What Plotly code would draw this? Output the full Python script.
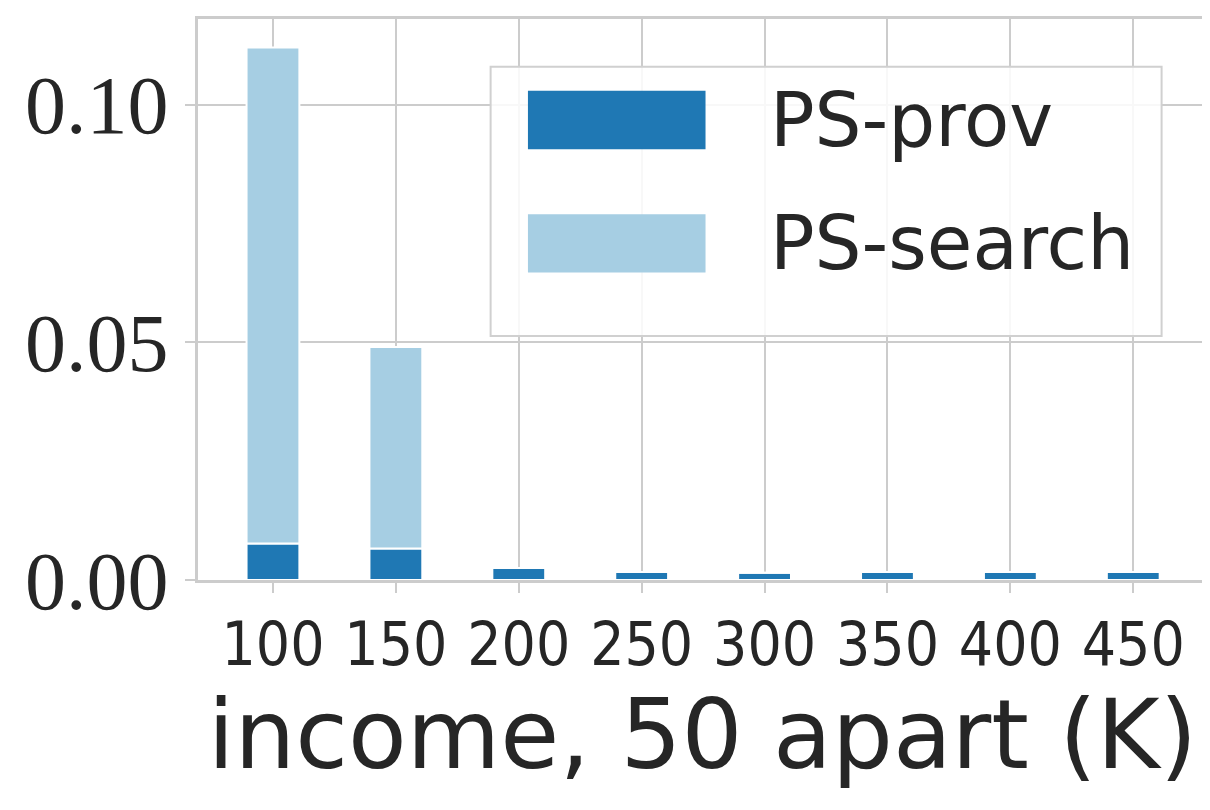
import plotly.graph_objects as go

incomes = ["100", "150", "200", "250", "300", "350", "400", "450"]
ps_prov = [0.0077, 0.0066, 0.0025, 0.0017, 0.0015, 0.0017, 0.0017, 0.0017]
ps_search = [0.1043, 0.0424, 0.0, 0.0, 0.0, 0.0, 0.0, 0.0]

dark = "#1f78b4"
light = "#a6cee3"

fig = go.Figure()
fig.add_bar(x=incomes, y=ps_prov, name="PS-prov", marker_color=dark,
            marker_line=dict(color="white", width=2), width=0.43)
fig.add_bar(x=incomes, y=ps_search, base=ps_prov, name="PS-search",
            marker_color=light, marker_line=dict(color="white", width=2), width=0.43)

fig.update_layout(
    width=1210, height=810, barmode="overlay", showlegend=False,
    plot_bgcolor="white", paper_bgcolor="white",
    margin=dict(l=190, r=10, t=8, b=238),
    font=dict(family="DejaVu Sans", color="#262626"),
)
fig.update_xaxes(
    type="category", range=[-0.61, 7.6], showgrid=True, gridcolor="#cccccc", gridwidth=2,
    showline=True, mirror=True, linecolor="#cccccc", linewidth=3,
    ticks="outside", ticklen=10, tickwidth=2, tickcolor="#cccccc",
    tickfont=dict(size=60, family="DejaVu Sans Condensed"),
    title=dict(text="income, 50 apart (K)", font=dict(size=96), standoff=4),
)
fig.update_yaxes(
    range=[0, 0.118], tickvals=[0, 0.05, 0.10], ticktext=["0.00", "0.05", "0.10"],
    showgrid=True, gridcolor="#cccccc", gridwidth=2, zeroline=False,
    showline=True, mirror=True, linecolor="#cccccc", linewidth=3,
    ticks="outside", ticklen=10, tickwidth=2, tickcolor="#cccccc",
    tickfont=dict(size=82, family="Liberation Serif"),
)

# legend drawn manually to get matplotlib-style wide patches
fig.add_shape(type="rect", xref="paper", yref="paper", x0=0.290, x1=0.955, y0=0.435, y1=0.915,
              line=dict(color="#d0d0d0", width=2), fillcolor="rgba(255,255,255,0.85)", layer="above")
for i, (label, col) in enumerate([("PS-prov", dark), ("PS-search", light)]):
    yc = 0.82 - i * 0.22
    fig.add_shape(type="rect", xref="paper", yref="paper", x0=0.327, x1=0.503,
                  y0=yc - 0.052, y1=yc + 0.052, fillcolor=col, line_width=0, layer="above")
    fig.add_annotation(xref="paper", yref="paper", x=0.565, y=yc, text=label, showarrow=False,
                       xanchor="left", yanchor="middle", font=dict(size=74, color="#262626"))

fig.write_html("out.html")
